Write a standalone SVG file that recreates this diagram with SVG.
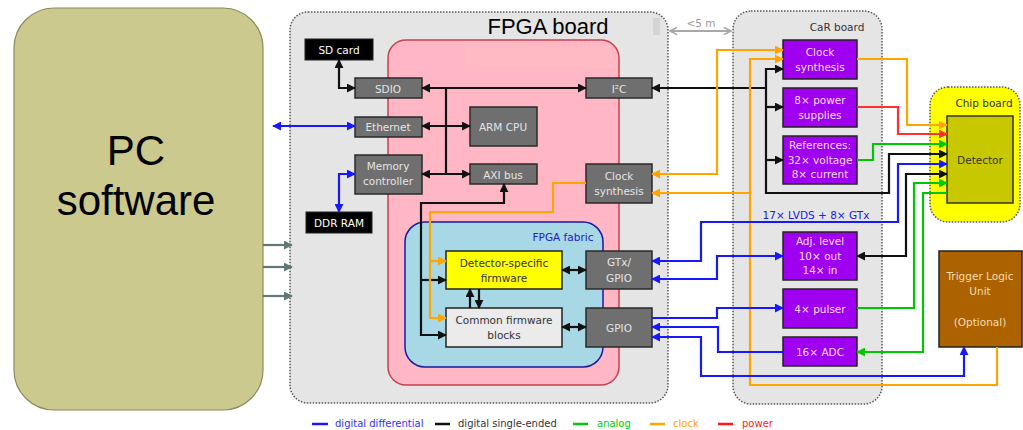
<svg xmlns="http://www.w3.org/2000/svg" width="1023" height="430" viewBox="0 0 1023 430">
<style>
.t{font-family:"DejaVu Sans",sans-serif;font-size:10.5px;text-anchor:middle}
.gb{fill:#6f6f6f;stroke:#2a2a2a;stroke-width:1.5}
.gt{fill:#e4e4e4}
.bb{fill:#000;stroke:#222;stroke-width:1}
.bt{fill:#fff}
.pb{fill:#a000f0;stroke:#222;stroke-width:1.5}
.pt{fill:#f6dcff}
.board{fill:#e5e5e5;stroke:#555;stroke-width:1.5;stroke-dasharray:1.5 1.5}
.c{fill:none;stroke-width:2.2;stroke-linejoin:miter}
.k{stroke:#111}
.b{stroke:#1818ff}
.o{stroke:#ffa500}
.g{stroke:#00c800}
.r{stroke:#ff3030}
.leg{font-family:"DejaVu Sans",sans-serif;font-size:10px}
</style>
<defs>
<marker id="ak" viewBox="0 0 10 10" refX="9" refY="5" markerWidth="9" markerHeight="9" markerUnits="userSpaceOnUse" orient="auto-start-reverse"><path d="M0,0 L10,5 L0,10 z" fill="#111"/></marker>
<marker id="ab" viewBox="0 0 10 10" refX="9" refY="5" markerWidth="9" markerHeight="9" markerUnits="userSpaceOnUse" orient="auto-start-reverse"><path d="M0,0 L10,5 L0,10 z" fill="#1818ff"/></marker>
<marker id="ao" viewBox="0 0 10 10" refX="9" refY="5" markerWidth="9" markerHeight="9" markerUnits="userSpaceOnUse" orient="auto-start-reverse"><path d="M0,0 L10,5 L0,10 z" fill="#ffa500"/></marker>
<marker id="ag" viewBox="0 0 10 10" refX="9" refY="5" markerWidth="9" markerHeight="9" markerUnits="userSpaceOnUse" orient="auto-start-reverse"><path d="M0,0 L10,5 L0,10 z" fill="#00c800"/></marker>
<marker id="ar" viewBox="0 0 10 10" refX="9" refY="5" markerWidth="9" markerHeight="9" markerUnits="userSpaceOnUse" orient="auto-start-reverse"><path d="M0,0 L10,5 L0,10 z" fill="#ff3030"/></marker>
<marker id="ay" viewBox="0 0 10 10" refX="9" refY="5" markerWidth="9" markerHeight="9" markerUnits="userSpaceOnUse" orient="auto-start-reverse"><path d="M0,0 L10,5 L0,10 z" fill="#5f7878"/></marker>
<marker id="aw" viewBox="0 0 10 10" refX="9" refY="5" markerWidth="9" markerHeight="9" markerUnits="userSpaceOnUse" orient="auto-start-reverse"><path d="M1,1 L9,5 L1,9" fill="none" stroke="#a8a8a8" stroke-width="1.8"/></marker>
</defs>
<rect width="1023" height="430" fill="#fff"/>

<g id="pc">
<rect x="14" y="8" width="249" height="402" rx="40" fill="#cbc98e" stroke="#8a8a5e" stroke-width="1.2"/>
<text x="136" y="165" font-family="Liberation Sans, sans-serif" font-size="42" text-anchor="middle">PC</text>
<text x="136" y="215" font-family="Liberation Sans, sans-serif" font-size="42" text-anchor="middle">software</text>
</g>

<g id="fpga-board">
<rect class="board" x="290" y="12" width="378" height="391" rx="18"/>
<text x="548" y="34" font-family="Liberation Sans, sans-serif" font-size="22" text-anchor="middle">FPGA board</text>
<rect x="653" y="18" width="7" height="17" fill="#d4d4d4"/>
</g>
<g id="fpga-soc">
<rect x="388" y="40" width="231" height="345" rx="18" fill="#ffb7c6" stroke="#c8404f" stroke-width="1.5"/>
<rect x="466" y="46" width="146" height="23" fill="#ffbac4"/>
</g>
<g id="fpga-fabric">
<rect x="405" y="222" width="198" height="145" rx="20" fill="#a8d8e6" stroke="#1a1aa0" stroke-width="1.5"/>
<text class="t" x="563" y="241" fill="#2020c0" font-size="11">FPGA fabric</text>
</g>

<g id="car-board">
<rect class="board" x="733" y="11" width="149" height="393" rx="18"/>
<text class="t" x="837" y="31" fill="#333" font-size="11">CaR board</text>
</g>

<g id="chip-board">
<rect x="930" y="87" width="90" height="135" rx="18" fill="#ffff00" stroke="#555" stroke-width="1.5" stroke-dasharray="1.5 1.5"/>
<text class="t" x="984" y="107" fill="#333" font-size="11">Chip board</text>
</g>

<g id="sd-card"><rect class="bb" x="305" y="39" width="68" height="21"/><text class="t bt" x="339" y="54">SD card</text></g>
<g id="ddr-ram"><rect class="bb" x="306" y="212" width="66" height="21"/><text class="t bt" x="339" y="227">DDR RAM</text></g>
<g id="sdio"><rect class="gb" x="355" y="78" width="67" height="20"/><text class="t gt" x="388" y="93">SDIO</text></g>
<g id="ethernet"><rect class="gb" x="355" y="117" width="67" height="20"/><text class="t gt" x="388" y="131">Ethernet</text></g>
<g id="memory-controller"><rect class="gb" x="355" y="155" width="67" height="39"/><text class="t gt" x="388" y="170">Memory</text><text class="t gt" x="388" y="185">controller</text></g>
<g id="arm-cpu"><rect class="gb" x="470" y="107" width="67" height="39"/><text class="t gt" x="503" y="131">ARM CPU</text></g>
<g id="axi-bus"><rect class="gb" x="470" y="164" width="67" height="20"/><text class="t gt" x="503" y="179">AXI bus</text></g>
<g id="i2c"><rect class="gb" x="586" y="78" width="66" height="20"/><text class="t gt" x="619" y="93">I²C</text></g>
<g id="fpga-clock"><rect class="gb" x="586" y="164" width="66" height="39"/><text class="t gt" x="619" y="180">Clock</text><text class="t gt" x="619" y="195">synthesis</text></g>
<g id="detector-fw"><rect x="446" y="251" width="116" height="38" fill="#ffff00" stroke="#222" stroke-width="1.5"/><text class="t" x="504" y="267" fill="#333">Detector-specific</text><text class="t" x="504" y="282" fill="#333">firmware</text></g>
<g id="common-fw"><rect x="446" y="308" width="116" height="39" fill="#ebebeb" stroke="#222" stroke-width="1.5"/><text class="t" x="504" y="324" fill="#333">Common firmware</text><text class="t" x="504" y="339" fill="#333">blocks</text></g>
<g id="gtx-gpio"><rect class="gb" x="586" y="251" width="66" height="38"/><text class="t gt" x="619" y="266">GTx/</text><text class="t gt" x="619" y="282">GPIO</text></g>
<g id="gpio"><rect class="gb" x="586" y="308" width="66" height="39"/><text class="t gt" x="619" y="332">GPIO</text></g>

<g id="car-clock"><rect class="pb" x="783" y="40" width="74" height="39"/><text class="t pt" x="820" y="56">Clock</text><text class="t pt" x="820" y="71">synthesis</text></g>
<g id="power"><rect class="pb" x="783" y="88" width="74" height="39"/><text class="t pt" x="820" y="104">8× power</text><text class="t pt" x="820" y="119">supplies</text></g>
<g id="references"><rect class="pb" x="783" y="136" width="74" height="48"/><text class="t pt" x="820" y="149">References:</text><text class="t pt" x="820" y="164">32× voltage</text><text class="t pt" x="820" y="178">8× current</text></g>
<g id="adj-level"><rect class="pb" x="783" y="232" width="74" height="48"/><text class="t pt" x="820" y="245">Adj. level</text><text class="t pt" x="820" y="260">10× out</text><text class="t pt" x="820" y="274">14× in</text></g>
<g id="pulser"><rect class="pb" x="783" y="289" width="74" height="39"/><text class="t pt" x="820" y="313">4× pulser</text></g>
<g id="adc"><rect class="pb" x="783" y="337" width="74" height="29"/><text class="t pt" x="820" y="356">16× ADC</text></g>
<g id="detector"><rect x="947" y="116" width="66" height="87" fill="#c8c800" stroke="#333" stroke-width="1.5"/><text class="t" x="980" y="164" fill="#333" font-size="11">Detector</text></g>
<g id="tlu"><rect x="939" y="251" width="83" height="96" fill="#ad6200" stroke="#222" stroke-width="1.5"/><text class="t" x="980" y="280" fill="#f5dcb0">Trigger Logic</text><text class="t" x="980" y="295" fill="#f5dcb0">Unit</text><text class="t" x="980" y="326" fill="#f5dcb0">(Optional)</text></g>

<g id="labels">
<text class="t" x="701" y="27" fill="#999" font-size="11">&lt;5 m</text>
<text class="t" x="816" y="219" fill="#2020e0" font-size="11">17× LVDS + 8× GTx</text>
</g>

<g id="connectors">
<path d="M670,31 H731" fill="none" stroke="#a8a8a8" stroke-width="1.8" marker-start="url(#aw)" marker-end="url(#aw)"/>
<!-- PC arrows -->
<path class="c" d="M263,245 H292" stroke="#5f7878" stroke-width="2.5" marker-end="url(#ay)"/>
<path class="c" d="M263,267 H292" stroke="#5f7878" stroke-width="2.5" marker-end="url(#ay)"/>
<path class="c" d="M263,296 H292" stroke="#5f7878" stroke-width="2.5" marker-end="url(#ay)"/>
<!-- black inside FPGA -->
<path class="c k" d="M339,60 V88 H355" marker-start="url(#ak)" marker-end="url(#ak)"/>
<path class="c k" d="M422,88 H586" marker-start="url(#ak)" marker-end="url(#ak)"/>
<path class="c k" d="M446,88 V174"/>
<path class="c k" d="M422,126 H470" marker-start="url(#ak)" marker-end="url(#ak)"/>
<path class="c k" d="M422,174 H470" marker-start="url(#ak)" marker-end="url(#ak)"/>
<path class="c k" d="M504,184 V203 H421 V335 H446" marker-start="url(#ak)" marker-end="url(#ak)"/>
<path class="c k" d="M421,280 H446" marker-end="url(#ak)"/>
<path class="c k" d="M470,308 V289" marker-end="url(#ak)"/>
<path class="c k" d="M479,289 V308" marker-end="url(#ak)"/>
<path class="c k" d="M562,270 H586" marker-start="url(#ak)" marker-end="url(#ak)"/>
<path class="c k" d="M562,327 H586" marker-start="url(#ak)" marker-end="url(#ak)"/>
<!-- orange inside FPGA -->
<path class="c o" d="M586,183 H553 V212 H430 V318 H446" marker-end="url(#ao)"/>
<path class="c o" d="M430,261 H446" marker-end="url(#ao)"/>
<!-- blue left -->
<path class="c b" d="M273,126 H355" marker-start="url(#ab)" marker-end="url(#ab)"/>
<path class="c b" d="M355,174 H339 V212" marker-start="url(#ab)" marker-end="url(#ab)"/>
<!-- I2C / CaR black bus -->
<path class="c k" d="M652,88 H766" marker-start="url(#ak)"/>
<path class="c k" d="M783,69 H766 V193 H889 V154 H947" marker-start="url(#ak)" marker-end="url(#ak)"/>
<path class="c k" d="M766,107 H783" marker-end="url(#ak)"/>
<path class="c k" d="M766,160 H783" marker-end="url(#ak)"/>
<path class="c k" d="M947,174 H906 V256 H857" marker-start="url(#ak)" marker-end="url(#ak)"/>
<!-- orange clocks -->
<path class="c o" d="M652,174 H717 V50 H783" marker-start="url(#ao)" marker-end="url(#ao)"/>
<path class="c o" d="M652,193 H750 V59 H783" marker-start="url(#ao)" marker-end="url(#ao)"/>
<path class="c o" d="M750,193 V385 H997 V347"/>
<path class="c o" d="M857,59 H907 V125 H947" marker-end="url(#ao)"/>
<!-- power / analog -->
<path class="c r" d="M857,107 H898 V134 H947" marker-end="url(#ar)"/>
<path class="c g" d="M857,160 H873 V144 H947" marker-end="url(#ag)"/>
<path class="c g" d="M857,308 H914 V183 H947" marker-end="url(#ag)"/>
<path class="c g" d="M947,193 H923 V352 H857" marker-end="url(#ag)"/>
<!-- blue right -->
<path class="c b" d="M652,261 H701 V222 H898 V164 H947" marker-start="url(#ab)" marker-end="url(#ab)"/>
<path class="c b" d="M652,279 H717 V256 H783" marker-start="url(#ab)" marker-end="url(#ab)"/>
<path class="c b" d="M652,318 H717 V308 H783" marker-end="url(#ab)"/>
<path class="c b" d="M783,352 H718 V327 H652" marker-end="url(#ab)"/>
<path class="c b" d="M652,337 H701 V376 H964 V347" marker-start="url(#ab)" marker-end="url(#ab)"/>
</g>

<g id="legend">
<path d="M312,424 H328" stroke="#1818ff" stroke-width="2.5"/>
<text class="leg" x="335" y="427" fill="#3030ff">digital differential</text>
<path d="M435,424 H450" stroke="#111" stroke-width="2.5"/>
<text class="leg" x="458" y="427" fill="#333">digital single-ended</text>
<path d="M573,424 H588" stroke="#00c800" stroke-width="2.5"/>
<text class="leg" x="597" y="427" fill="#00c800">analog</text>
<path d="M650,424 H665" stroke="#ffa500" stroke-width="2.5"/>
<text class="leg" x="673" y="427" fill="#ffa500">clock</text>
<path d="M718,424 H733" stroke="#ff1a1a" stroke-width="2.5"/>
<text class="leg" x="742" y="427" fill="#ff1a1a">power</text>
</g>
</svg>
